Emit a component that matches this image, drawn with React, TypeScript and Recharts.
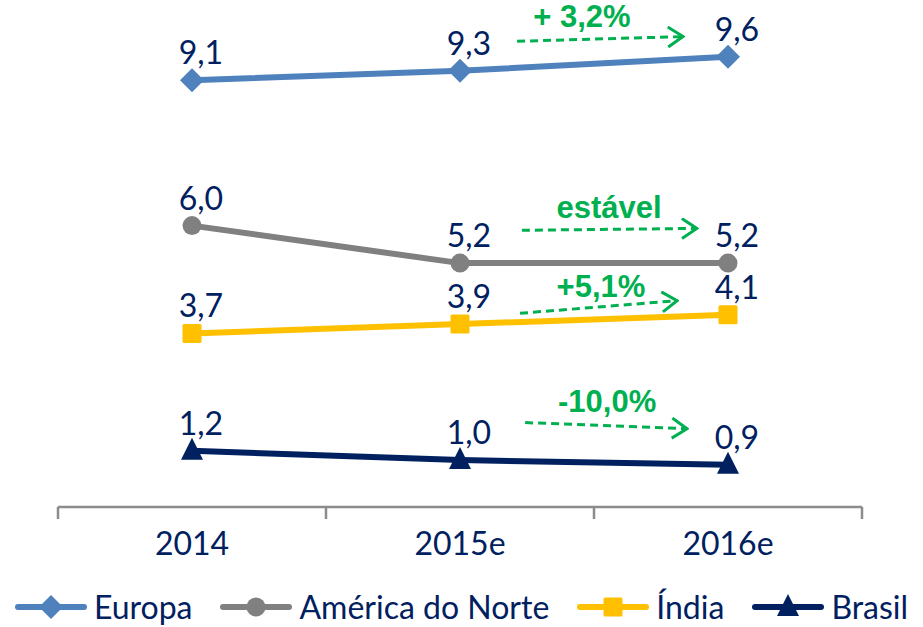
import React from "react";
import { Line, LineChart, XAxis, YAxis, Legend, LabelList, ReferenceLine, ReferenceDot } from "recharts";

const categories = ["2014", "2015e", "2016e"];
const europa = [9.1, 9.3, 9.6];
const americaDoNorte = [6.0, 5.2, 5.2];
const india = [3.7, 3.9, 4.1];
const brasil = [1.2, 1.0, 0.9];

const data = categories.map((cat, i) => ({
  i,
  cat,
  europa: europa[i],
  america: americaDoNorte[i],
  india: india[i],
  brasil: brasil[i],
}));

type Shape = "diamond" | "circle" | "square" | "triangle";

const series: { key: string; name: string; color: string; shape: Shape }[] = [
  { key: "europa", name: "Europa", color: "#4F81BD", shape: "diamond" },
  { key: "america", name: "América do Norte", color: "#808080", shape: "circle" },
  { key: "india", name: "Índia", color: "#FFC000", shape: "square" },
  { key: "brasil", name: "Brasil", color: "#002060", shape: "triangle" },
];

// growth notes between 2015e and 2016e, placed in chart units
const notes = [
  { text: "+ 3,2%", tx: 1.455, ty: 10.46, x1: 1.213, y1: 9.93, x2: 1.832, y2: 10.03 },
  { text: "estável", tx: 1.556, ty: 6.39, x1: 1.231, y1: 5.9, x2: 1.884, y2: 5.94 },
  { text: "+5,1%", tx: 1.526, ty: 4.71, x1: 1.224, y1: 4.13, x2: 1.81, y2: 4.4 },
  { text: "-10,0%", tx: 1.549, ty: 2.27, x1: 1.243, y1: 1.8, x2: 1.847, y2: 1.67 },
];

const NAVY = "#002060";
const GREEN = "#00B050";
const FONT = "Lato, 'Liberation Sans', sans-serif";

function Marker({ shape, cx, cy, color }: { shape: Shape; cx: number; cy: number; color: string }) {
  if (shape === "diamond")
    return <path d={`M${cx},${cy - 12}L${cx + 12},${cy}L${cx},${cy + 12}L${cx - 12},${cy}Z`} fill={color} />;
  if (shape === "circle") return <circle cx={cx} cy={cy} r={9.5} fill={color} />;
  if (shape === "square") return <rect x={cx - 9.5} y={cy - 9.5} width={19} height={19} rx={1.5} fill={color} />;
  return <path d={`M${cx},${cy - 13}L${cx + 11},${cy + 9}L${cx - 11},${cy + 9}Z`} fill={color} />;
}

const fmt = (v: number) => v.toFixed(1).replace(".", ",");

function LegendRow() {
  return (
    <div
      style={{
        display: "flex",
        justifyContent: "center",
        alignItems: "center",
        height: 40,
        width: 923,
        whiteSpace: "nowrap",
        fontFamily: FONT,
        fontSize: 32,
        color: NAVY,
      }}
    >
      {series.map((s, idx) => (
        <span
          key={s.key}
          style={{ display: "flex", alignItems: "center", marginRight: idx < series.length - 1 ? 28 : 0 }}
        >
          <svg width={72} height={28}>
            <line x1={3} y1={14} x2={69} y2={14} stroke={s.color} strokeWidth={6} strokeLinecap="round" />
            <Marker shape={s.shape} cx={36} cy={14} color={s.color} />
          </svg>
          <span style={{ marginLeft: 7, lineHeight: "40px" }}>{s.name}</span>
        </span>
      ))}
    </div>
  );
}

export default function App() {
  return (
    <div style={{ position: "absolute", left: 0, top: 0, background: "#fff" }}>
      <LineChart width={923} height={627} data={data} margin={{ top: 38, right: 61, left: 58, bottom: 0 }}>
        <defs>
          <marker
            id="arrowG"
            markerWidth={18}
            markerHeight={24}
            refX={16}
            refY={11}
            orient="auto"
            markerUnits="userSpaceOnUse"
          >
            <path d="M1,1 L16,11 L1,21" fill="none" stroke={GREEN} strokeWidth={3} strokeDasharray="none" />
          </marker>
        </defs>
        <XAxis
          xAxisId="a"
          dataKey="i"
          type="number"
          domain={[-0.5, 2.5]}
          allowDataOverflow
          ticks={[-0.5, 0.5, 1.5, 2.5]}
          interval={0}
          tickFormatter={() => ""}
          tickSize={12}
          height={14}
          axisLine={{ stroke: "#8C8C8C", strokeWidth: 2.5 }}
          tickLine={{ stroke: "#8C8C8C", strokeWidth: 2.5 }}
        />
        <XAxis
          xAxisId="b"
          dataKey="i"
          type="number"
          domain={[-0.5, 2.5]}
          allowDataOverflow
          ticks={[0, 1, 2]}
          interval={0}
          tickFormatter={(v) => categories[v] ?? ""}
          axisLine={false}
          tickLine={false}
          tickSize={0}
          tickMargin={11}
          height={66}
          tick={{ fill: NAVY, fontSize: 32, fontFamily: FONT }}
        />
        <YAxis hide type="number" domain={[0, 10]} allowDataOverflow />
        <Legend verticalAlign="bottom" content={() => <LegendRow />} wrapperStyle={{ left: 0, width: 923 }} />
        <Line
          xAxisId="b"
          dataKey="europa"
          stroke="none"
          dot={false}
          activeDot={false}
          legendType="none"
          isAnimationActive={false}
        />
        {series.map((s) => (
          <Line
            key={s.key}
            xAxisId="a"
            type="linear"
            dataKey={s.key}
            name={s.name}
            stroke={s.color}
            strokeWidth={6}
            isAnimationActive={false}
            activeDot={false}
            dot={(p: any) => <Marker key={`${s.key}-${p.index}`} shape={s.shape} cx={p.cx} cy={p.cy} color={s.color} />}
          >
            <LabelList
              dataKey={s.key}
              content={(p: any) => (
                <text
                  x={Number(p.x) + 9}
                  y={Number(p.y) - 16}
                  textAnchor="middle"
                  fill={NAVY}
                  fontSize={32}
                  fontFamily={FONT}
                >
                  {fmt(Number(p.value))}
                </text>
              )}
            />
          </Line>
        ))}
        {notes.map((n) => (
          <ReferenceLine
            key={`arrow-${n.text}`}
            xAxisId="a"
            ifOverflow="visible"
            segment={[
              { x: n.x1, y: n.y1 },
              { x: n.x2, y: n.y2 },
            ]}
            shape={(p: any) => (
              <line
                x1={p.x1}
                y1={p.y1}
                x2={p.x2}
                y2={p.y2}
                stroke={GREEN}
                strokeWidth={3}
                strokeDasharray="8 5"
                markerEnd="url(#arrowG)"
              />
            )}
          />
        ))}
        {notes.map((n) => (
          <ReferenceDot
            key={`note-${n.text}`}
            xAxisId="a"
            x={n.tx}
            y={n.ty}
            r={0}
            fill="none"
            stroke="none"
            ifOverflow="visible"
            label={{
              content: (p: any) => (
                <text
                  x={p.viewBox.x}
                  y={p.viewBox.y + 11}
                  textAnchor="middle"
                  fill={GREEN}
                  fontSize={31}
                  fontWeight="bold"
                  fontFamily="'Liberation Sans', Arial, sans-serif"
                >
                  {n.text}
                </text>
              ),
            }}
          />
        ))}
      </LineChart>
    </div>
  );
}
